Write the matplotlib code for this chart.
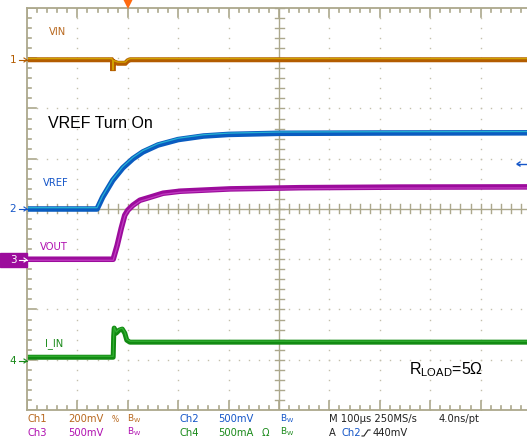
import numpy as np
import matplotlib
matplotlib.use("Agg")
import matplotlib.pyplot as plt

# ---------------- data (time in us, trigger at 0) ----------------
t_vin = [-200, -32, -30, -29.5, -29, -28, -20, -5, 0, 5, 792]
v_vin = [0.0, 0.0, -0.006, -0.045, -0.010, -0.008, -0.014, -0.014, -0.004, 0.0, 0.0]   # V, Ch1 200 mV/div

t_vref = [-200, -61, -50, -30, -10, 10, 30, 60, 100, 150, 200, 300, 500, 792]
v_vref = [0.0, 0.0, 0.117, 0.285, 0.409, 0.500, 0.568, 0.637, 0.691, 0.726, 0.742, 0.753, 0.756, 0.758]  # V, Ch2 500 mV/div

t_vout = [-200, -29, -21, -13, -6, 0, 10, 24, 44, 70, 104, 203, 342, 540, 792]
v_vout = [0.0, 0.0, 0.139, 0.308, 0.438, 0.488, 0.537, 0.587, 0.617, 0.657, 0.677, 0.700, 0.712, 0.718, 0.72]  # V, Ch3 500 mV/div

t_iin = [-200, -29, -28, -27, -23, -17, -11, -6, -2, 4, 792]
i_iin = [0.04, 0.04, 0.25, 0.33, 0.28, 0.31, 0.32, 0.28, 0.21, 0.19, 0.19]  # A, Ch4 500 mA/div

ch_scale = {"1": 0.2, "2": 0.5, "3": 0.5, "4": 0.5}
ch_offset = {"1": 2.97, "2": 0.0, "3": -1.0, "4": -3.03}   # divisions

status_row1 = [("Ch1", 28, "#b8681e"), ("200mV", 68, "#b8681e"), ("Ch2", 179, "#1556c8"),
               ("500mV", 218, "#1556c8"), ("M 100\u00b5s 250MS/s", 329, "#222222"),
               ("4.0ns/pt", 439, "#222222")]
status_row2 = [("Ch3", 28, "#b010b0"), ("500mV", 68, "#b010b0"), ("Ch4", 179, "#1a8a1a"),
               ("500mA", 218, "#1a8a1a"), ("\u03a9", 262, "#1a8a1a"), ("A", 329, "#222222"),
               ("Ch2", 341, "#1556c8"), ("440mV", 373, "#222222")]

# ---------------- figure ----------------
W, H = 527, 440
fig = plt.figure(figsize=(W / 100, H / 100), dpi=100)
fig.patch.set_facecolor("white")

def fx(x):
    return x / W

def fy(y):
    return 1 - y / H

ax = fig.add_axes([fx(27), fy(410), fx(500), 402 / H])
x0, x1 = -200, -200 + 500 / 50.4 * 100
ax.set_xlim(x0, x1)
ax.set_ylim(-4, 4)
ax.set_xticks([])
ax.set_yticks([])
grid_c = "#aca88c"
for s in ["left", "top", "bottom"]:
    ax.spines[s].set_color(grid_c)
    ax.spines[s].set_linewidth(1.3)
ax.spines["right"].set_visible(False)

pxx = 100 / 50.4      # us per pixel
pxy = 1 / 50.25       # div per pixel

# dotted grid
xs_minor = np.arange(-200, 800.1, 20)
ys_minor = np.arange(-4, 4.01, 0.2)
for k in range(-1, 8):
    xv = k * 100
    if xv == 300:
        continue
    ax.plot(np.full_like(ys_minor, xv), ys_minor, ls="none", marker="s", ms=1.0,
            color="#c4c0ac", mew=0)
for j in range(-3, 4):
    if j == 0:
        continue
    ax.plot(xs_minor, np.full_like(xs_minor, j), ls="none", marker="s", ms=1.0,
            color="#c4c0ac", mew=0)

# center crosshair
ax.axvline(300, color=grid_c, lw=1.0)
ax.axhline(0, color=grid_c, lw=1.0)
for xv in xs_minor:
    ax.plot([xv, xv], [-4.5 * pxy, 4.5 * pxy], color=grid_c, lw=1.0)
    ln = 9 if abs((xv + 200) % 100) < 1e-6 else 4
    ax.plot([xv, xv], [4, 4 - ln * pxy], color=grid_c, lw=1.2)
    ax.plot([xv, xv], [-4, -4 + ln * pxy], color=grid_c, lw=1.2)
for yv in ys_minor:
    ax.plot([300 - 4.5 * pxx, 300 + 4.5 * pxx], [yv, yv], color=grid_c, lw=1.0)
    ln = 9 if abs(yv - round(yv)) < 1e-6 else 4
    ax.plot([x0, x0 + ln * pxx], [yv, yv], color=grid_c, lw=1.2)

# ---------------- traces ----------------
def div(vals, ch):
    return np.asarray(vals) / ch_scale[ch] + ch_offset[ch]

ax.plot(t_vin, div(v_vin, "1"), color="#b35c00", lw=3.6, solid_joinstyle="miter")
ax.plot(t_vin, div(v_vin, "1") + 1.2 * pxy, color="#d8b400", lw=1.0, alpha=0.8)

ax.plot(t_vref, div(v_vref, "2"), color="#0a5cc0", lw=4.0)
ax.plot(t_vref, div(v_vref, "2") + 1.3 * pxy, color="#2ec8d8", lw=0.9, alpha=0.8)

ax.plot(t_vout, div(v_vout, "3"), color="#9c0c9c", lw=4.0)
ax.plot(t_vout, div(v_vout, "3") - 1.0 * pxy, color="#d050d0", lw=0.9, alpha=0.7)

ax.plot(t_iin, div(i_iin, "4"), color="#128a12", lw=3.6)
ax.plot(t_iin, div(i_iin, "4") + 1.0 * pxy, color="#40c040", lw=0.9, alpha=0.7)

# ---------------- labels ----------------
small = dict(fontsize=7.2, family="DejaVu Sans", va="center", ha="left")
fig.text(fx(49), fy(32), "VIN", color="#b8681e", **small)
fig.text(fx(43), fy(183), "VREF", color="#1556c8", **small)
fig.text(fx(40), fy(247), "VOUT", color="#b010b0", **small)
fig.text(fx(45), fy(344), "I_IN", color="#1a8a1a", **small)

fig.text(fx(48), fy(124), "VREF Turn On", fontsize=11.5, family="Liberation Sans",
         color="black", va="center", ha="left")
fig.text(fx(409), fy(370), "R$_{\\mathregular{LOAD}}$=5\u03a9",
         fontsize=11.5, family="Liberation Sans", color="black", va="center", ha="left")

# left channel markers
def marker(y, label, color, boxed=False):
    if boxed:
        fig.patches.append(matplotlib.patches.Rectangle((0, fy(267)), fx(27), 14 / H,
                           transform=fig.transFigure, color=color, zorder=5))
        tc = "white"
    else:
        tc = color
    fig.text(fx(13), fy(y), label, color=tc, fontsize=7.5, family="DejaVu Sans",
             va="center", ha="center", zorder=6)
    fig.add_artist(matplotlib.lines.Line2D([fx(19), fx(27)], [fy(y), fy(y)], color=tc,
                                           lw=0.8, zorder=6))
    fig.add_artist(matplotlib.lines.Line2D([fx(24), fx(27), fx(24)], [fy(y - 2), fy(y), fy(y + 2)],
                                           color=tc, lw=0.8, zorder=6))

marker(60, "1", "#b35c00")
marker(209, "2", "#1556c8")
marker(260, "3", "#9c0c9c", boxed=True)
marker(361, "4", "#1a8a1a")

# trigger level arrow at right
fig.add_artist(matplotlib.lines.Line2D([fx(517), fx(527)], [fy(164), fy(164)], color="#1556c8", lw=1.0))
fig.add_artist(matplotlib.lines.Line2D([fx(520), fx(517), fx(520)], [fy(162), fy(164), fy(166)],
                                       color="#1556c8", lw=1.0))
# trigger position triangle at top
fig.add_artist(matplotlib.lines.Line2D([fx(128)], [fy(4)], marker="v", ms=7, color="#ff6a10",
                                       mew=0, ls="none"))

# ---------------- status bar ----------------
st = dict(fontsize=7.2, family="DejaVu Sans", va="center", ha="left")
for txt, x, c in status_row1:
    fig.text(fx(x), fy(419), txt, color=c, **st)
for txt, x, c in status_row2:
    fig.text(fx(x), fy(433), txt, color=c, **st)
# rising-edge slope symbol
fig.add_artist(matplotlib.lines.Line2D([fx(362), fx(364), fx(368), fx(370)],
                                       [fy(436), fy(436), fy(430), fy(430)], color="#222222", lw=0.8))
fig.text(fx(112), fy(419), "%", color="#b8681e", fontsize=5.5, family="DejaVu Sans", va="center")
bw = dict(fontsize=6.5, family="DejaVu Sans", va="center", ha="left")
fig.text(fx(127), fy(419), r"$\mathregular{B_W}$", color="#b8681e", **bw)
fig.text(fx(127), fy(432), r"$\mathregular{B_W}$", color="#b010b0", **bw)
fig.text(fx(280), fy(419), r"$\mathregular{B_W}$", color="#1556c8", **bw)
fig.text(fx(280), fy(432), r"$\mathregular{B_W}$", color="#1a8a1a", **bw)

fig.savefig("out.png", dpi=100)
